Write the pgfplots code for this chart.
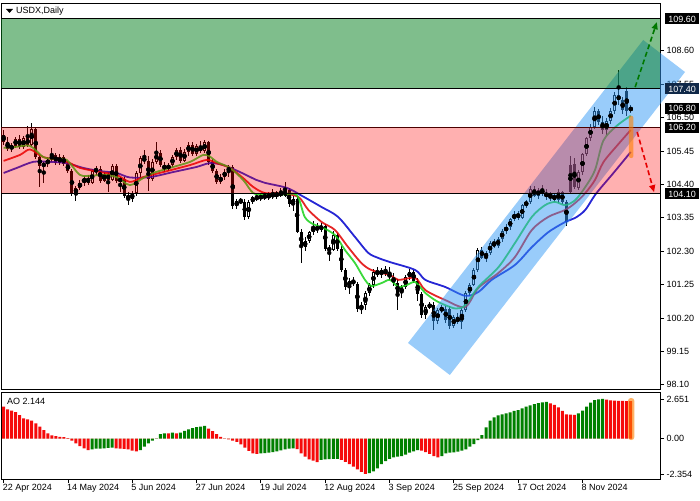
\documentclass[border=0pt]{standalone}
\usepackage{fontspec}
\setmainfont{Liberation Sans}
\usepackage{pgfplots}
\usepackage{pgfplotstable}
\pgfplotsset{compat=1.18}
\usetikzlibrary{arrows.meta}

\definecolor{maGreen}{RGB}{25,210,25}
\definecolor{maRed}{RGB}{225,0,0}
\definecolor{maBlue}{RGB}{0,0,205}
\definecolor{zoneGreen}{RGB}{0,125,25}
\definecolor{zoneRed}{RGB}{255,0,0}
\definecolor{chanBlue}{RGB}{51,153,245}
\definecolor{aoGreen}{RGB}{0,128,0}
\definecolor{aoRed}{RGB}{245,10,10}
\definecolor{boxNavy}{RGB}{16,40,72}
\definecolor{arrGreen}{RGB}{0,120,0}
\definecolor{arrRed}{RGB}{230,0,0}

% daily candles, bar index from 22 Apr 2024
\pgfplotstableread{
i o h l c
0 105.95 106.12 105.65 105.72
1 105.72 105.88 105.45 105.52
2 105.52 105.70 105.42 105.62
3 105.62 105.90 105.55 105.82
4 105.82 105.95 105.50 105.58
5 105.58 105.92 105.50 105.85
6 105.85 106.25 105.58 105.65
7 105.65 106.32 105.60 106.15
8 106.15 106.18 105.20 105.25
9 105.25 105.32 104.32 104.98
10 104.98 105.10 104.45 105.05
11 105.05 105.25 104.95 105.18
12 105.18 105.55 105.10 105.33
13 105.33 105.40 105.00 105.08
14 105.08 105.35 105.02 105.25
15 105.25 105.32 104.98 105.05
16 105.05 105.15 104.75 104.82
17 104.82 104.88 104.05 104.10
18 104.10 104.35 103.88 104.30
19 104.30 104.55 104.22 104.45
20 104.45 104.68 104.35 104.60
21 104.60 104.70 104.38 104.45
22 104.45 104.90 104.40 104.82
23 104.82 104.98 104.70 104.88
24 104.88 104.98 104.45 104.52
25 104.52 104.80 104.48 104.72
26 104.72 104.78 104.16 104.55
27 104.55 105.05 104.50 104.98
28 104.98 105.05 104.45 104.50
29 104.50 104.62 104.15 104.58
30 104.58 104.62 103.98 104.05
31 104.05 104.15 103.75 103.95
32 103.95 104.18 103.85 104.12
33 104.12 104.82 104.05 104.75
34 104.75 105.30 104.65 105.22
35 105.22 105.48 105.05 105.15
36 105.15 105.28 104.18 104.58
37 104.58 105.20 104.52 105.12
38 105.12 105.75 105.05 105.40
39 105.40 105.48 104.95 105.00
40 105.00 105.10 104.80 104.88
41 104.88 105.08 104.82 105.02
42 105.02 105.32 104.95 105.25
43 105.25 105.55 105.18 105.48
44 105.48 105.58 105.08 105.15
45 105.15 105.50 105.10 105.42
46 105.42 105.75 105.30 105.65
47 105.65 105.72 105.30 105.36
48 105.36 105.68 105.28 105.60
49 105.60 105.75 105.38 105.45
50 105.45 105.80 105.40 105.72
51 105.72 105.78 105.00 105.10
52 105.10 105.20 104.75 104.82
53 104.82 104.90 104.40 104.48
54 104.48 104.72 104.42 104.65
55 104.65 104.88 104.55 104.80
56 104.80 105.02 104.62 104.95
57 104.95 105.00 103.62 103.72
58 103.72 103.95 103.62 103.88
59 103.88 103.98 103.80 103.85
60 103.85 103.95 103.28 103.38
61 103.38 103.90 103.30 103.85
62 103.85 104.05 103.78 104.00
63 104.00 104.12 103.88 103.95
64 103.95 104.12 103.88 104.05
65 104.05 104.15 103.92 103.98
66 103.98 104.15 103.90 104.10
67 104.10 104.25 103.95 104.02
68 104.02 104.20 103.95 104.15
69 104.15 104.30 104.00 104.05
70 104.05 104.48 104.00 104.22
71 104.22 104.30 103.70 103.78
72 103.78 104.05 103.55 103.95
73 103.95 104.00 102.88 102.92
74 102.92 103.00 101.93 102.45
75 102.45 102.75 102.30 102.62
76 102.62 102.95 102.55 102.90
77 102.90 103.25 102.82 103.05
78 103.05 103.18 102.88 102.98
79 102.98 103.20 102.90 103.10
80 103.10 103.15 102.30 102.38
81 102.38 102.50 102.00 102.35
82 102.35 102.95 102.30 102.82
83 102.82 102.88 102.30 102.38
84 102.38 102.45 101.65 101.72
85 101.72 101.78 101.08 101.18
86 101.18 101.45 100.95 101.38
87 101.38 101.50 101.20 101.28
88 101.28 101.32 100.40 100.48
89 100.48 100.70 100.32 100.62
90 100.62 101.05 100.45 100.98
91 100.98 101.30 100.88 101.25
92 101.25 101.75 101.15 101.65
93 101.65 101.80 101.50 101.58
94 101.58 101.78 101.45 101.70
95 101.70 101.85 101.52 101.60
96 101.60 101.80 101.40 101.48
97 101.48 101.62 101.22 101.30
98 101.30 101.42 100.45 100.98
99 100.98 101.25 100.82 101.18
100 101.18 101.55 101.10 101.48
101 101.48 101.75 101.40 101.65
102 101.65 101.72 101.30 101.38
103 101.38 101.45 100.75 100.95
104 100.95 101.02 100.20 100.30
105 100.30 100.60 100.18 100.55
106 100.55 100.70 100.48 100.62
107 100.62 100.72 99.83 100.10
108 100.10 100.52 100.02 100.45
109 100.45 100.62 100.35 100.50
110 100.50 100.58 100.05 100.15
111 100.50 100.58 99.85 99.95
112 99.95 100.30 99.90 100.22
113 100.22 100.35 100.00 100.08
114 100.08 100.52 99.85 100.45
115 100.45 101.05 100.40 100.98
116 100.98 101.30 100.90 101.25
117 101.25 101.78 101.20 101.72
118 101.72 102.40 101.65 102.35
119 102.35 102.42 102.05 102.10
120 102.10 102.30 101.95 102.25
121 102.25 102.62 102.18 102.55
122 102.55 102.70 102.40 102.48
123 102.48 102.75 102.40 102.68
124 102.68 103.00 102.60 102.95
125 102.95 103.15 102.85 103.05
126 103.05 103.35 102.98 103.30
127 103.30 103.55 103.25 103.48
128 103.48 103.58 103.28 103.35
129 103.35 103.80 103.30 103.75
130 103.75 103.92 103.65 103.85
131 103.85 104.35 103.80 104.25
132 104.25 104.35 104.00 104.05
133 104.05 104.30 103.95 104.22
134 104.22 104.38 104.05 104.12
135 104.12 104.25 103.92 104.02
136 104.02 104.15 103.88 104.08
137 104.08 104.12 103.85 103.90
138 103.90 104.25 103.82 104.15
139 104.15 104.20 103.80 103.85
140 103.85 103.92 103.10 103.22
141 105.02 105.28 104.10 104.15
142 105.05 105.22 104.25 104.32
143 104.30 104.85 104.22 104.78
144 104.78 105.40 104.70 105.35
145 105.35 105.90 105.28 105.85
146 105.85 106.30 105.78 106.22
147 106.22 106.85 106.15 106.70
148 106.70 106.78 106.28 106.35
149 106.35 106.55 106.00 106.12
150 106.12 106.48 105.95 106.40
151 106.40 106.80 106.30 106.72
152 106.72 107.30 106.60 107.20
153 107.20 108.00 106.90 107.05
154 107.05 107.15 106.60 106.75
155 107.35 107.45 106.55 106.72
156 106.72 106.90 106.65 106.82
}\candles

% Awesome Oscillator, g=1 rising (green), g=0 falling (red)
\pgfplotstableread{
i ao g
0 2.14 0
1 1.96 0
2 1.87 0
3 1.78 0
4 1.58 0
5 1.36 0
6 1.29 0
7 1.20 0
8 1.02 0
9 0.80 0
10 0.58 0
11 0.36 0
12 0.22 0
13 0.18 0
14 0.13 0
15 0.11 0
16 0.04 0
17 -0.13 0
18 -0.31 0
19 -0.49 0
20 -0.65 0
21 -0.76 0
22 -0.71 1
23 -0.67 1
24 -0.66 1
25 -0.65 1
26 -0.62 1
27 -0.60 1
28 -0.65 0
29 -0.66 0
30 -0.68 0
31 -0.72 0
32 -0.80 0
33 -0.85 0
34 -0.76 1
35 -0.53 1
36 -0.31 1
37 -0.13 1
38 0.02 1
39 0.31 1
40 0.36 1
41 0.35 0
42 0.40 1
43 0.36 0
44 0.40 1
45 0.53 1
46 0.62 1
47 0.71 1
48 0.78 1
49 0.80 1
50 0.85 1
51 0.67 0
52 0.51 0
53 0.31 0
54 0.13 0
55 0.02 0
56 -0.04 0
57 -0.13 0
58 -0.22 0
59 -0.38 0
60 -0.60 0
61 -0.82 0
62 -0.98 0
63 -1.02 0
64 -0.98 1
65 -0.97 1
66 -0.93 1
67 -0.89 1
68 -0.85 1
69 -0.78 1
70 -0.71 1
71 -0.67 1
72 -0.65 1
73 -0.70 0
74 -0.98 0
75 -1.20 0
76 -1.38 0
77 -1.47 0
78 -1.56 0
79 -1.42 1
80 -1.38 1
81 -1.36 1
82 -1.35 1
83 -1.34 1
84 -1.42 0
85 -1.54 0
86 -1.69 0
87 -1.87 0
88 -2.05 0
89 -2.22 0
90 -2.354 0
91 -2.30 1
92 -2.18 1
93 -1.98 1
94 -1.69 1
95 -1.49 1
96 -1.34 1
97 -1.25 1
98 -1.20 1
99 -1.16 1
100 -1.07 1
101 -0.93 1
102 -0.85 1
103 -0.76 1
104 -0.80 0
105 -0.89 0
106 -1.02 0
107 -1.16 0
108 -1.25 0
109 -1.16 1
110 -0.98 1
111 -0.93 1
112 -0.91 1
113 -0.87 1
114 -0.80 1
115 -0.71 1
116 -0.53 1
117 -0.36 1
118 -0.09 1
119 0.24 1
120 0.76 1
121 1.20 1
122 1.42 1
123 1.56 1
124 1.62 1
125 1.69 1
126 1.76 1
127 1.85 1
128 1.91 1
129 2.02 1
130 2.14 1
131 2.23 1
132 2.31 1
133 2.38 1
134 2.43 1
135 2.45 1
136 2.36 0
137 2.25 0
138 2.09 0
139 1.85 0
140 1.62 0
141 1.60 0
142 1.59 0
143 1.69 1
144 1.87 1
145 2.14 1
146 2.40 1
147 2.58 1
148 2.63 1
149 2.651 1
150 2.60 0
151 2.56 0
152 2.54 0
153 2.53 0
154 2.52 0
155 2.51 0
156 2.50 0
}\aodata

\pgfplotsset{
  mt/.style={
    scale only axis,
    xmin=-0.647, xmax=163.28,
    clip=false,
    axis line style={black, line width=0.8pt},
    tick style={black, line width=0.8pt},
    major tick length=4pt,
    ytick pos=right,
    yticklabel pos=right,
    ytick align=outside,
    tick label style={font=\fontsize{9}{10}\selectfont},
    yticklabel style={anchor=west, xshift=-1pt},
  }
}

\begin{document}
\begin{tikzpicture}[x=1pt,y=1pt]
\path[use as bounding box] (0,0) rectangle (700,500);

\begin{axis}[mt,
  at={(1pt,111pt)}, anchor=south west,
  width=659pt, height=386pt,
  ymin=97.971, ymax=110.103,
  xtick=\empty,
  ytick={98.10,99.15,100.20,101.25,102.30,103.35,104.40,105.45,106.50,107.55,108.60},
  yticklabel style={/pgf/number format/.cd, fixed, fixed zerofill, precision=2, assume math mode=true},
]
% wicks
\addplot[only marks, mark=none, error bars/.cd, y dir=both, y explicit, error mark=none,
  error bar style={draw=black, line width=1pt}]
  table[x=i, y expr={(\thisrow{h}+\thisrow{l})/2}, y error expr={(\thisrow{h}-\thisrow{l})/2}] {\candles};
% bodies
\addplot[only marks, mark=none, error bars/.cd, y dir=both, y explicit, error mark=none,
  error bar style={draw=black, line width=3pt}]
  table[x=i, y expr={(\thisrow{o}+\thisrow{c})/2}, y error expr={max(abs(\thisrow{c}-\thisrow{o})/2,0.016)}] {\candles};
% hollow bull bodies
\addplot[only marks, mark=none, error bars/.cd, y dir=both, y explicit, error mark=none,
  error bar style={draw=white, line width=1pt}]
  table[x=i, y expr={(\thisrow{o}+\thisrow{c})/2}, y error expr={ifthenelse(\thisrow{c}>\thisrow{o},max(abs(\thisrow{c}-\thisrow{o})/2-0.031,0),0)}] {\candles};

% moving averages
\addplot[maBlue, line width=1.8pt, smooth, opacity=0.85] coordinates {
(0,104.76) (3.3,104.92) (7.4,105.11) (11.5,105.11) (15.7,105.07) (19.8,104.92) (24,104.82) (28.1,104.76) (31.4,104.62) (36.4,104.63) (42.2,104.79) (48,104.95) (51.3,105.07) (54.6,105.01) (58.8,104.79) (62.9,104.54) (65,104.45) (70.5,104.29) (74.1,104.05) (79.1,103.69) (83.2,103.38) (87.4,102.75) (90.7,102.25) (93.2,102.09) (96.1,101.96) (102.4,101.71) (104.9,101.40) (109.8,101.18) (114.8,100.90) (118.1,101.02) (121.4,101.40) (127.2,101.87) (131.4,102.43) (135.5,102.90) (139.7,103.22) (142.2,103.35) (144.7,103.60) (147.3,104.10) (151.7,104.76) (156,105.42)};
\addplot[maRed, line width=1.8pt, smooth, opacity=0.85] coordinates {
(0,105.14) (4.1,105.33) (6.6,105.50) (9.9,105.26) (15.7,105.11) (19,104.92) (24,104.79) (28.1,104.70) (31.4,104.48) (34.7,104.63) (39.7,104.79) (46.4,105.01) (50.5,105.17) (53,105.07) (56.3,104.92) (59.6,104.60) (62.1,104.32) (65,104.13) (69,104.12) (73.3,104.01) (75.8,103.60) (79.1,103.22) (82.4,102.97) (85.7,102.43) (89,101.93) (91.5,101.71) (96.1,101.55) (98.2,101.40) (102.4,101.46) (104.9,101.08) (109.8,100.77) (114.8,100.55) (118.1,101.15) (123.1,101.62) (127.2,102.12) (131.4,102.97) (135.5,103.38) (139.7,103.60) (142.2,103.82) (144.7,104.13) (147.1,104.54) (149.2,105.10) (152.8,105.65) (156,106.11)};
\addplot[maGreen, line width=1.8pt, smooth, opacity=0.85] coordinates {
(0,105.55) (3,105.58) (6.6,105.61) (9.9,105.26) (13,105.20) (15.7,105.17) (19,104.70) (22,104.68) (25,104.70) (28.1,104.63) (31.4,104.38) (34.7,104.60) (37.2,104.76) (42.2,104.95) (46.4,105.11) (49.7,105.33) (51.3,105.28) (53,105.11) (56.3,104.92) (59.6,104.54) (62.1,104.13) (65,104.07) (69,104.08) (72.9,104.07) (74.9,103.38) (77,103.15) (79.1,103.06) (82.4,102.81) (84.9,102.34) (87.4,101.93) (89.9,101.40) (91.5,101.21) (94,101.30) (96.1,101.40) (98.2,101.18) (100.5,101.25) (102.4,101.33) (104.9,100.99) (107.5,100.75) (109.8,100.61) (112.5,100.50) (114.8,100.60) (118.1,101.18) (123.1,101.80) (127.2,102.56) (131.4,103.38) (134.7,103.75) (137.2,103.85) (139.7,103.75) (142.2,103.91) (144.7,104.32) (147.1,104.85) (149.2,105.78) (152.5,106.24) (156,106.56)};

% rising channel
\addplot[draw=none, fill=chanBlue, fill opacity=0.5] coordinates {
(100.6,99.417) (111.0,98.411) (169.5,107.934) (159.1,108.940)} -- cycle;

% resistance / support zones
\addplot[draw=none, fill=zoneGreen, fill opacity=0.5] coordinates {
(-0.647,107.40) (163.28,107.40) (163.28,109.60) (-0.647,109.60)} -- cycle;
\addplot[draw=none, fill=zoneRed, fill opacity=0.31] coordinates {
(-0.647,104.10) (163.28,104.10) (163.28,106.20) (-0.647,106.20)} -- cycle;
\addplot[black, line width=1pt] coordinates {(-0.647,109.60) (163.28,109.60)};
\addplot[black, line width=1pt] coordinates {(-0.647,107.40) (163.28,107.40)};
\addplot[black!70!red, line width=1pt] coordinates {(-0.647,106.20) (163.28,106.20)};
\addplot[black, line width=1pt] coordinates {(-0.647,104.10) (163.28,104.10)};

% scenario arrows
\draw[arrGreen, line width=1.6pt, dash pattern=on 5pt off 3pt, -{Triangle[length=7pt,width=6pt]}]
  (axis cs:157.1,107.46) -- (axis cs:162.5,109.50);
\draw[arrRed, line width=1.6pt, dash pattern=on 5pt off 3pt, -{Triangle[length=7pt,width=6pt]}]
  (axis cs:157.6,106.05) -- (axis cs:161.8,104.16);

% highlight of the last bar
\fill[orange, opacity=0.6, rounded corners=2pt] (axis cs:155.55,106.56) rectangle (axis cs:156.65,105.23);

% header
\fill[black] ([xshift=5pt,yshift=-6pt]rel axis cs:0,1) -- ++(7pt,0pt) -- ++(-3.5pt,-4pt) -- cycle;
\node[anchor=west, inner sep=0pt, font=\fontsize{9}{10}\selectfont] at ([xshift=15pt,yshift=-8pt]rel axis cs:0,1) {USDX,Daily};

\coordinate (b1) at (axis cs:163.28,109.60);
\coordinate (b2) at (axis cs:163.28,107.40);
\coordinate (b3) at (axis cs:163.28,106.80);
\coordinate (b4) at (axis cs:163.28,106.20);
\coordinate (b5) at (axis cs:163.28,104.10);
\end{axis}

\begin{scope}[every node/.style={anchor=west, text=white, inner xsep=1pt, inner ysep=0pt,
    minimum height=11pt, minimum width=34pt, font=\fontsize{9}{10}\selectfont}]
\node[fill=black] at ([xshift=5pt]b1) {109.60};
\node[fill=boxNavy] at ([xshift=5pt]b2) {107.40};
\node[fill=black] at ([xshift=5pt]b3) {106.80};
\node[fill=black] at ([xshift=5pt]b4) {106.20};
\node[fill=black] at ([xshift=5pt]b5) {104.10};
\end{scope}

\begin{axis}[mt,
  at={(1pt,21pt)}, anchor=south west,
  width=659pt, height=87pt,
  ymin=-2.690, ymax=3.117,
  ytick={-2.354,0,2.651},
  yticklabels={-2.354,0.00,2.651},
  xtick={0,16,32,48,64,80,96,112,128,144},
  xticklabels={22 Apr 2024,14 May 2024,5 Jun 2024,27 Jun 2024,19 Jul 2024,12 Aug 2024,3 Sep 2024,25 Sep 2024,17 Oct 2024,8 Nov 2024},
  xtick pos=bottom,
  xtick align=outside,
  xticklabel style={anchor=north west, inner sep=0pt, xshift=-1pt, yshift=-1pt},
]
\addplot[ybar, bar width=3pt, bar shift=0pt, fill=aoGreen, draw=none]
  table[x=i, y expr={\thisrow{ao}*\thisrow{g}}] {\aodata};
\addplot[ybar, bar width=3pt, bar shift=0pt, fill=aoRed, draw=none]
  table[x=i, y expr={\thisrow{ao}*(1-\thisrow{g})}] {\aodata};
\fill[orange, opacity=0.6, rounded corners=3pt] (axis cs:155.3,2.72) rectangle (axis cs:156.9,-0.09);
\node[anchor=west, inner sep=0pt, font=\fontsize{9}{10}\selectfont] at ([xshift=6pt,yshift=-9pt]rel axis cs:0,1) {AO 2.144};
\end{axis}
\end{tikzpicture}
\end{document}
